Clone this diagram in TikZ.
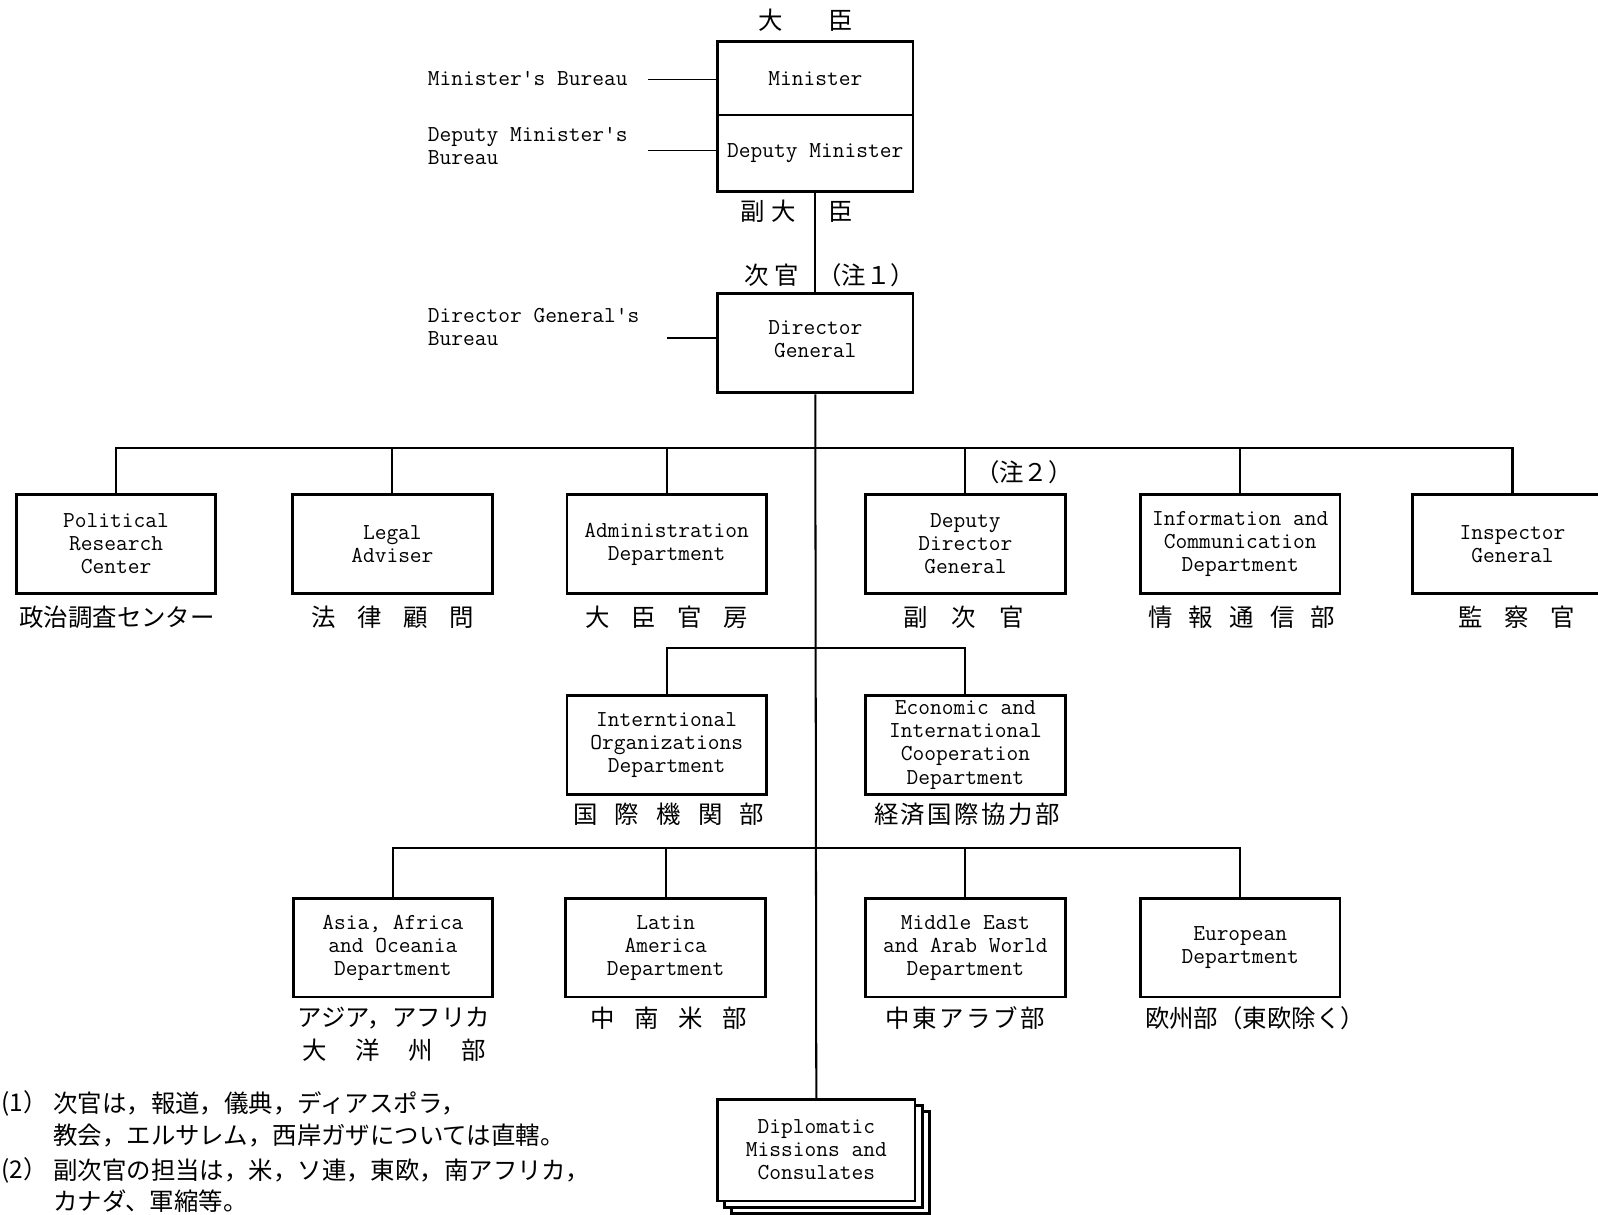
\documentclass[tikz,border=0pt]{standalone}
\usepackage{fontspec}
\newfontfamily\jp{Noto Sans CJK JP}
\newcommand{\eng}{\ttfamily\fontsize{11.2}{11.3}\selectfont}
\newcommand{\jpf}{\jp\fontsize{12}{15}\selectfont}
\begin{document}
\begin{tikzpicture}[x=0.5pt,y=-0.5pt,
  box/.style={draw, line width=1.4pt, minimum width=98pt, minimum height=48.5pt, inner sep=0pt, align=center, font=\eng},
  conn/.style={line width=1pt},
  thin conn/.style={line width=0.8pt},
  jl/.style={font=\jpf, inner sep=0pt},
  en/.style={font=\eng, inner sep=0pt, align=left}]
\useasboundingbox (0,0) rectangle (1570,1193.5);
\clip (0,0) rectangle (1570,1193.5);

% top: minister
\node[box, minimum width=96pt, minimum height=36pt] (min) at (801,77) {Minister};
\node[box, minimum width=96pt, minimum height=37.5pt] (dep) at (801,150.5) {Deputy Minister};
\node[box, minimum width=96pt, minimum height=49pt] (dg) at (801,337) {Director\\General\\[-7.3pt]\mbox{}};

\node[jl] (daijin) at (791.5,20) {大\hspace{22.5pt}臣};
\node[jl] (fuku) at (755,208) {副\hspace{3pt}大};
\node[jl] (fukuo) at (826,208) {臣};
\node[jl] (jikan) at (758,270) {次\hspace{3pt}官};
\node[jl] (note1) at (851,270) {（注１）};

% bureaus
\node[en, anchor=west] (minb) at (420,77) {Minister's Bureau};
\node[en, anchor=west] (depb) at (420,143.5) {Deputy Minister's\\Bureau};
\node[en, anchor=west] (dgb) at (420,321.5) {Director General's\\Bureau};
\coordinate (minbE) at (637,78);
\coordinate (depbE) at (637,148);
\coordinate (dgbE) at (655,332);
\draw[thin conn] (minbE) -- (minbE -| min.west);
\draw[thin conn] (depbE) -- (depbE -| dep.west);
\draw[thin conn] (dgbE) -- (dgbE -| dg.west);
\draw[conn] (dep.south) -- (dg.north);

% first row
\node[box] (pol) at (114,534.5) {Political\\Research\\Center};
\node[box] (legal) at (385.5,534.5) {Legal\\Adviser};
\node[box] (admin) at (655,534.5) {Administration\\Department};
\node[box] (ddg) at (948.5,534.5) {Deputy\\Director\\General};
\node[box] (info) at (1218.5,534.5) {Information and\\Communication\\Department};
\node[box] (insp) at (1486,534.5) {Inspector\\General};

\coordinate (bar1) at (800,440);
\draw[conn] (pol.north) |- (bar1) -| (insp.north);
\draw[conn] (legal.north) -- (legal.north |- bar1);
\draw[conn] (admin.north) -- (admin.north |- bar1);
\draw[conn] (ddg.north) -- (ddg.north |- bar1);
\draw[conn] (info.north) -- (info.north |- bar1);

\node[jl] (note2) at (1006,464) {（注２）};

\node[jl] (polj) at (115,606) {政治調査センター};
\node[jl] (legalj) at (386,606) {法\hspace{10.5pt}律\hspace{10.5pt}顧\hspace{10.5pt}問};
\node[jl] (adminj) at (655,606) {大\hspace{10.5pt}臣\hspace{10.5pt}官\hspace{10.5pt}房};
\node[jl] (ddgj) at (947,606) {副\hspace{11.5pt}次\hspace{11.5pt}官};
\node[jl] (infoj) at (1220,606) {情\hspace{8pt}報\hspace{8pt}通\hspace{8pt}信\hspace{8pt}部};
\node[jl] (inspj) at (1490,606) {監\hspace{10.5pt}察\hspace{10.5pt}官};

% second row
\node[box] (intl) at (655,732) {Interntional\\Organizations\\Department};
\node[box] (econ) at (948.5,732) {Economic and\\International\\Cooperation\\Department};
\coordinate (bar2) at (800,637);
\draw[conn] (intl.north) |- (bar2) -| (econ.north);
\node[jl] (intlj) at (657,800) {国\hspace{8.5pt}際\hspace{8.5pt}機\hspace{8.5pt}関\hspace{8.5pt}部};
\node[jl] (econj) at (950,800) {経\hspace{1.2pt}済\hspace{1.2pt}国\hspace{1.2pt}際\hspace{1.2pt}協\hspace{1.2pt}力\hspace{1.2pt}部};

% third row
\node[box] (asia) at (386,931) {Asia, Africa\\and Oceania\\Department};
\node[box] (latin) at (654,931) {Latin\\America\\Department};
\node[box] (mide) at (948.5,931) {Middle East\\and Arab World\\Department};
\node[box] (euro) at (1218.5,931) {European\\Department};
\coordinate (bar3) at (800,833);
\draw[conn] (asia.north) |- (bar3) -| (euro.north);
\draw[conn] (latin.north) -- (latin.north |- bar3);
\draw[conn] (mide.north) -- (mide.north |- bar3);
\node[jl] (asiaj) at (387,1000) {アジア，アフリカ};
\node[jl] (asiaj2) at (387,1032) {大\hspace{14pt}洋\hspace{14pt}州\hspace{14pt}部};
\node[jl] (latinj) at (657,1000) {中\hspace{9.5pt}南\hspace{9.5pt}米\hspace{9.5pt}部};
\node[jl] (midej) at (948,1000) {中\hspace{1.3pt}東\hspace{1.3pt}ア\hspace{1.3pt}ラ\hspace{1.3pt}ブ\hspace{1.3pt}部};
\node[jl] (euroj) at (1233,1000) {欧州部（東欧除く）};

% diplomatic missions
\node[box, fill=white, minimum width=97pt, minimum height=50pt] (dip3) at (816,1142) {};
\node[box, fill=white, minimum width=97pt, minimum height=50pt] (dip2) at (809,1136) {};
\node[box, fill=white, minimum width=97pt, minimum height=50pt] (dip) at (802,1130) {Diplomatic\\Missions and\\Consulates};
\draw[conn] (dg.south) -- (dip.north);

% notes
\node[jl, anchor=west] (n1) at (1,1084) {(1）};
\node[jl, anchor=west] (n1a) at (52,1084) {次官は，報道，儀典，ディアスポラ，};
\node[jl, anchor=west] (n1b) at (52,1116) {教会，エルサレム，西岸ガザについては直轄。};
\node[jl, anchor=west] (n2) at (1,1150) {(2）};
\node[jl, anchor=west] (n2a) at (52,1150) {副次官の担当は，米，ソ連，東欧，南アフリカ，};
\node[jl, anchor=west] (n2b) at (52,1180) {カナダ、軍縮等。};
\end{tikzpicture}
\end{document}
